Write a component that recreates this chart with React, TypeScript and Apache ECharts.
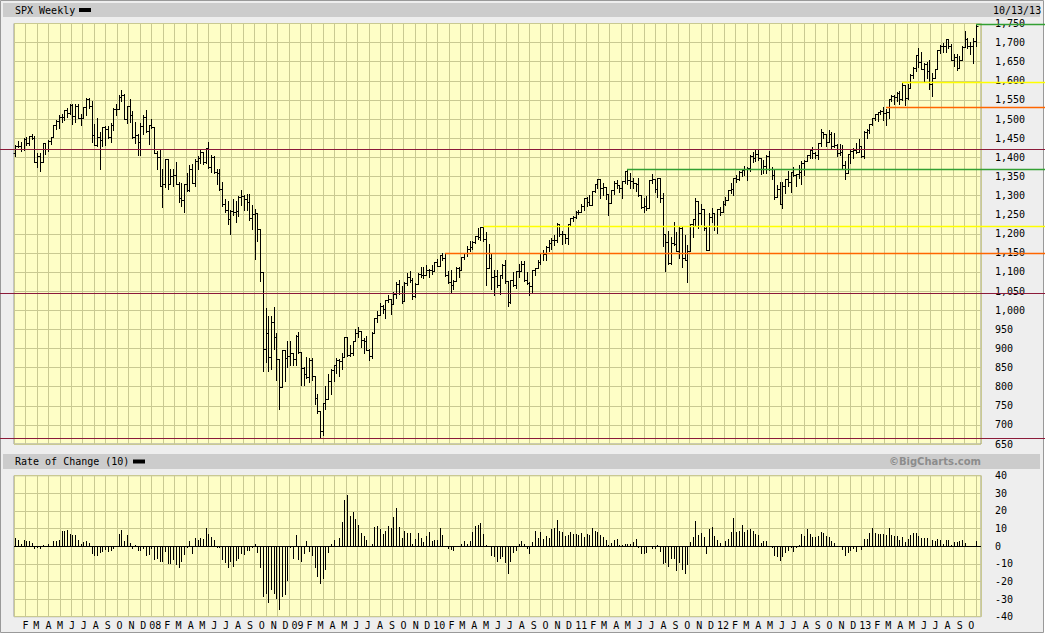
import React, { useEffect, useRef } from "react";
import * as echarts from "echarts";

// Weekly S&P 500 bars, week ending Fri 2007-01-12 (index 0) to 2013-10-18 (index 353)
const opens = [
1410,1430.7,1430.5,1422.2,1448.4,1438.1,1455.5,1451.2,1387.2,1402.8,
1387,1436.1,1420.9,1443.8,1452.9,1484.4,1494.1,1505.6,1505.9,1522.8,
1515.7,1536.3,1507.7,1532.9,1502.6,1503.4,1530.4,1552.5,1534.1,1459,
1433.1,1453.6,1445.9,1479.4,1474,1453.6,1484.3,1525.8,1526.8,1557.6,
1561.8,1500.6,1535.3,1509.7,1453.7,1458.7,1440.7,1481.1,1504.7,1468,
1484.5,1478.5,1411.6,1401,1325.2,1330.6,1395.4,1331.3,1350,1353.1,
1330.6,1293.4,1288.1,1329.5,1315.2,1370.4,1332.8,1390.3,1397.8,1413.9,
1388.3,1425.4,1375.9,1400.4,1360.7,1360,1317.9,1278.4,1262.9,1239.5,
1260.7,1257.8,1260.3,1296.3,1298.2,1292.2,1282.8,1242.3,1251.7,1255.1,
1213.3,1099.2,899.2,940.6,876.8,968.8,931,873.3,800,896.2,
876.1,879.7,887.9,872.8,931.8,890.4,850.1,832,825.9,868.6,
826.8,770.1,735.1,683.4,756.6,768.5,815.9,842.5,856.6,869.6,
866.2,877.5,929.2,882.9,887,919.1,940.1,946.2,921.2,918.9,
896.4,879.1,940.4,979.3,987.5,1010.5,1004.1,1026.1,1028.9,1016.4,
1042.7,1068.3,1044.4,1025.2,1071.5,1087.7,1079.6,1036.2,1069.3,1093.5,
1091.4,1091.5,1106,1106.4,1102.5,1126.5,1115.1,1145,1136,1091.8,
1073.9,1066.2,1075.5,1109.2,1104.5,1138.7,1150,1159.9,1166.6,1178.1,
1194.4,1192.1,1217.3,1186.7,1110.9,1135.7,1087.7,1089.4,1064.9,1091.6,
1117.5,1076.8,1022.6,1078,1064.9,1102.7,1101.6,1121.6,1079.3,1071.7,
1064.6,1104.5,1109.6,1125.6,1148.7,1146.2,1165.2,1176.2,1183.1,1183.3,
1225.9,1199.2,1199.7,1189.4,1224.7,1240.4,1243.9,1256.8,1257.6,1271.5,
1293.2,1283.4,1276.3,1310.9,1329.2,1343,1319.9,1321.2,1304.3,1279.2,
1313.8,1332.4,1328.2,1319.7,1337.4,1363.6,1340.2,1337.8,1333.3,1331.1,
1300.2,1271,1271.5,1268.5,1339.7,1343.8,1316.1,1345,1292.3,1199.4,
1178.8,1123.5,1176.8,1174,1154.2,1216,1136.4,1131.4,1155.5,1224.6,
1238.3,1285.1,1253.2,1263.9,1215.7,1158.7,1244.3,1255.2,1219.7,1265.3,
1257.6,1277.8,1289.1,1315.4,1316.3,1344.9,1342.6,1361.2,1365.7,1370,
1370.9,1404.2,1397.1,1408.5,1398.1,1370.3,1378.5,1403.4,1369.1,1353.4,
1295.2,1317.8,1278,1325.7,1342.8,1335,1362.2,1354.7,1356.8,1362.7,
1386,1391,1405.9,1418.2,1411.1,1406.6,1437.9,1465.8,1460.2,1440.7,
1460.9,1428.6,1433.2,1411.9,1414.2,1379.9,1359.9,1409.2,1416.2,1418.1,
1413.6,1430.2,1402.4,1466.5,1472.1,1486,1503,1513.2,1517.9,1519.8,
1515.6,1518.2,1551.2,1560.7,1556.9,1569.2,1553.3,1588.9,1555.3,1582.2,
1614.4,1633.7,1667.5,1649.6,1630.7,1643.4,1626.7,1592.4,1606.3,1631.9,
1680.2,1692.1,1691.7,1709.7,1691.4,1655.8,1663.5,1633,1655.2,1688,
1709.9,1691.8,1690.5,1703.2];

const highs = [
1431.6,1441.6,1440.7,1449.3,1453,1456,1461.6,1457,1410.2,1410.5,
1437.7,1437.8,1444,1453.1,1484.7,1498,1510.3,1513.8,1522.8,1529.4,
1540.6,1540.5,1538.7,1540.5,1514.3,1531.9,1555.1,1555.9,1547.2,1488.3,
1503.9,1466.3,1479.5,1481.5,1481.5,1489.6,1529.4,1538.7,1561.9,1576.1,
1564.7,1535.3,1552.8,1520.5,1492.1,1462.2,1488.9,1510.6,1523.6,1485.4,
1498.9,1478.9,1416.5,1417.9,1368.6,1396,1395.4,1368.6,1368.4,1388.3,
1335.1,1333.3,1331.3,1359.7,1380.9,1383.5,1395.9,1404.6,1422.7,1415.1,
1425.4,1440.2,1406.3,1404.1,1370.6,1370.6,1335.6,1290.7,1285.3,1262.3,
1291.2,1284.4,1297.9,1313.2,1300.7,1303,1303,1274.4,1265.1,1255.1,
1213.3,1099.2,1006.9,985.4,984.4,1007.5,939.7,873.4,896.3,896.2,
918.9,918.6,888,934.7,943.9,890.4,852.5,877.9,873.9,875,
826.8,780,735.1,758.3,803,833,845.6,856.9,875.6,871.8,
888.7,930.2,930.2,910,920,951.7,956.2,946.2,926.9,931.9,
898.7,944,979.8,996.7,1018,1012.9,1027.6,1039.5,1028.9,1048.2,
1074.8,1080.2,1063.4,1075,1096.6,1101.4,1085.3,1071.5,1097,1113.7,
1112.4,1119.1,1107.8,1117.7,1126.5,1133.5,1145.4,1150.4,1150.45,1103.7,
1104.7,1080,1112.4,1112.4,1139,1150,1169.2,1180.7,1181.4,1194.7,
1213.9,1217.3,1219.8,1205,1173.6,1150.3,1104,1105.7,1093,1120,
1131.2,1076.8,1078.2,1099.1,1103.7,1121,1128,1129.2,1100.1,1075,
1105.1,1110.9,1131.5,1148.9,1157.2,1167.7,1184.4,1189.4,1196.1,1227.1,
1225.9,1207.4,1199.7,1225.6,1240.4,1246.7,1259.4,1262.6,1278.2,1293.2,
1296.1,1301.3,1311,1330.8,1344.1,1343,1332.3,1322.3,1304.3,1314.2,
1337.9,1339.5,1328.2,1337.5,1364.6,1370.6,1359.4,1346.8,1334,1345.2,
1300.6,1292.5,1298.6,1341,1356.5,1343.8,1347,1345,1307.4,1199.4,
1208.5,1190.7,1230.7,1204.4,1220.1,1220.4,1195.9,1171.4,1224.6,1239,
1292.7,1285.1,1277.6,1264.3,1219,1254.2,1267.1,1255.2,1265.4,1269.4,
1284.6,1296.8,1315.5,1333.5,1345.3,1354.3,1363.4,1368.9,1378,1374,
1405.9,1414,1419.2,1422.4,1398.1,1392.8,1406.6,1415.3,1375.8,1365.9,
1328.5,1334.9,1334.5,1343.3,1363.5,1362.2,1374.8,1356.8,1380.4,1389.2,
1394.2,1406,1418.7,1426.7,1413.5,1437.9,1474.5,1467.1,1460.2,1471,
1465.7,1464,1434.8,1434.3,1433.4,1391.4,1409.2,1420.3,1423.7,1438.6,
1448,1430.2,1467.9,1472.8,1486,1503.3,1514.4,1518.3,1524.7,1530.9,
1525.8,1552.5,1563.6,1563.6,1570.3,1573.7,1597.4,1588.9,1592.6,1618.5,
1635,1667.5,1687.2,1674.2,1646.5,1648.7,1654.2,1620.1,1632.1,1680.2,
1693.1,1698.4,1709.7,1709.7,1696.8,1669.5,1669.7,1664.8,1690,1729.9,
1711.7,1700.7,1711,1745.3];

const lows = [
1403.9,1426,1416.9,1418.5,1433,1431.2,1448.4,1386.6,1373.4,1364,
1386.9,1408.9,1416.4,1433.9,1452.8,1473.7,1476.7,1491.4,1498.3,1505.2,
1514.4,1487.4,1492.7,1502.6,1484.2,1503.4,1510,1529.2,1441,1433.1,
1429.4,1370.6,1430.5,1432,1449.6,1439.3,1471.8,1510.9,1526.8,1546.7,
1500.3,1489.6,1492.5,1450,1438.5,1406.1,1406.1,1460.7,1467.4,1435.7,
1475.8,1411.2,1370.1,1324.4,1270,1322.4,1316.8,1331.3,1325.4,1330.6,
1282.9,1272.6,1257,1313,1312.6,1332.8,1324.4,1370.1,1386,1382.6,
1386,1373.1,1362.5,1359.9,1330.9,1314.6,1272,1257.3,1225.4,1200.4,
1248.6,1230.3,1247.4,1274.2,1261.3,1262.1,1236.1,1211.4,1133.5,1180.1,
1077.6,839.8,865.8,840.9,845.3,899.7,818.7,741,798.9,815.7,
851.4,857.9,857.1,857.3,888.3,804.3,804.1,821.7,812.9,818,
754.3,731.3,666.8,672.9,741,768.5,779.8,814.5,836.9,826.8,
847.1,876.6,878.9,878.9,881.8,919,930.8,903.8,888.9,896.4,
869.3,875.3,940.4,970,986.8,991.4,978.5,1022.5,991,1016.4,
1030.9,1041.2,1020,1025.2,1066.8,1073.6,1029.4,1033.4,1069.3,1085.6,
1083.7,1091.5,1085.9,1095.4,1102.5,1115.1,1115.1,1131.4,1090.2,1071.6,
1044.5,1056.5,1075.5,1086,1104.5,1134.5,1141.4,1156,1159.1,1175,
1186.1,1183.7,1181.6,1065.8,1110.9,1055.9,1040.8,1060.5,1042.2,1085.5,
1070,1010.9,1018.3,1062.9,1056.9,1088,1101.6,1076.6,1069.6,1039.7,
1047.7,1091,1109.4,1120.8,1131.9,1131.9,1155.7,1159.7,1171.7,1177.7,
1194.1,1173,1176,1174.4,1222.4,1232.9,1241.8,1251.5,1257.6,1262.2,
1271.3,1275.6,1276.3,1309,1320,1294.3,1302.6,1292,1249.1,1279.2,
1305,1320.9,1309,1294.7,1333.6,1329.2,1318.5,1318.5,1311.8,1297.9,
1268.3,1258.1,1262.7,1268.5,1333.9,1309.4,1295.9,1282.9,1168.1,1101.5,
1120.1,1121.1,1170.6,1153.8,1136.1,1114.2,1131.1,1074.8,1155.5,1191.5,
1220.9,1215.4,1226.6,1209.4,1158.7,1158.7,1231.5,1209.5,1202.4,1248.6,
1257.6,1274.7,1289.1,1306.1,1300.5,1335.9,1340,1352.3,1354.9,1340,
1365.4,1386.9,1391.6,1392.9,1357.4,1358,1358.6,1367.9,1343.1,1292,
1295.2,1277.8,1266.7,1306.6,1324.4,1309.3,1350.4,1325.4,1345.1,1329.2,
1354.6,1391,1397.3,1397.1,1397,1396.6,1429.1,1449.5,1430.5,1440.7,
1425.5,1426.7,1403.3,1406,1373,1343.4,1359.9,1385.4,1398.2,1411.9,
1413.6,1401.6,1398.1,1451.6,1463.8,1485,1496.3,1495,1513.6,1497.3,
1485,1501.5,1547.4,1538.6,1546.2,1539.5,1548.6,1536,1552.6,1581.3,
1607.4,1625.3,1635.5,1630.7,1598.2,1608.1,1577.7,1560.3,1606.3,1631.9,
1672.3,1676,1674.9,1684.9,1654.2,1639.4,1627.5,1633,1655.2,1688,
1687.1,1670.4,1646.5,1692.1];

const closes = [
1430.7,1430.5,1422.2,1448.4,1438.1,1455.5,1451.2,1387.2,1402.8,1387,
1436.1,1420.9,1443.8,1452.9,1484.4,1494.1,1505.6,1505.9,1522.8,1515.7,
1536.3,1507.7,1532.9,1502.6,1503.4,1530.4,1552.5,1534.1,1459,1433.1,
1453.6,1445.9,1479.4,1474,1453.6,1484.3,1525.8,1526.8,1557.6,1561.8,
1500.6,1535.3,1509.7,1453.7,1458.7,1440.7,1481.1,1504.7,1468,1484.5,
1478.5,1411.6,1401,1325.2,1330.6,1395.4,1331.3,1350,1353.1,1330.6,
1293.4,1288.1,1329.5,1315.2,1370.4,1332.8,1390.3,1397.8,1413.9,1388.3,
1425.4,1375.9,1400.4,1360.7,1360,1317.9,1278.4,1262.9,1239.5,1260.7,
1257.8,1260.3,1296.3,1298.2,1292.2,1282.8,1242.3,1251.7,1255.1,1213.3,
1099.2,899.2,940.6,876.8,968.8,931,873.3,800,896.2,876.1,
879.7,887.9,872.8,931.8,890.4,850.1,832,825.9,868.6,826.8,
770.1,735.1,683.4,756.6,768.5,815.9,842.5,856.6,869.6,866.2,
877.5,929.2,882.9,887,919.1,940.1,946.2,921.2,918.9,896.4,
879.1,940.4,979.3,987.5,1010.5,1004.1,1026.1,1028.9,1016.4,1042.7,
1068.3,1044.4,1025.2,1071.5,1087.7,1079.6,1036.2,1069.3,1093.5,1091.4,
1091.5,1106,1106.4,1102.5,1126.5,1115.1,1145,1136,1091.8,1073.9,
1066.2,1075.5,1109.2,1104.5,1138.7,1150,1159.9,1166.6,1178.1,1194.4,
1192.1,1217.3,1186.7,1110.9,1135.7,1087.7,1089.4,1064.9,1091.6,1117.5,
1076.8,1022.6,1078,1064.9,1102.7,1101.6,1121.6,1079.3,1071.7,1064.6,
1104.5,1109.6,1125.6,1148.7,1146.2,1165.2,1176.2,1183.1,1183.3,1225.9,
1199.2,1199.7,1189.4,1224.7,1240.4,1243.9,1256.8,1257.6,1271.5,1293.2,
1283.4,1276.3,1310.9,1329.2,1343,1319.9,1321.2,1304.3,1279.2,1313.8,
1332.4,1328.2,1319.7,1337.4,1363.6,1340.2,1337.8,1333.3,1331.1,1300.2,
1271,1271.5,1268.5,1339.7,1343.8,1316.1,1345,1292.3,1199.4,1178.8,
1123.5,1176.8,1174,1154.2,1216,1136.4,1131.4,1155.5,1224.6,1238.3,
1285.1,1253.2,1263.9,1215.7,1158.7,1244.3,1255.2,1219.7,1265.3,1257.6,
1277.8,1289.1,1315.4,1316.3,1344.9,1342.6,1361.2,1365.7,1370,1370.9,
1404.2,1397.1,1408.5,1398.1,1370.3,1378.5,1403.4,1369.1,1353.4,1295.2,
1317.8,1278,1325.7,1342.8,1335,1362.2,1354.7,1356.8,1362.7,1386,
1391,1405.9,1418.2,1411.1,1406.6,1437.9,1465.8,1460.2,1440.7,1460.9,
1428.6,1433.2,1411.9,1414.2,1379.9,1359.9,1409.2,1416.2,1418.1,1413.6,
1430.2,1402.4,1466.5,1472.1,1486,1503,1513.2,1517.9,1519.8,1515.6,
1518.2,1551.2,1560.7,1556.9,1569.2,1553.3,1588.9,1555.3,1582.2,1614.4,
1633.7,1667.5,1649.6,1630.7,1643.4,1626.7,1592.4,1606.3,1631.9,1680.2,
1692.1,1691.7,1709.7,1691.4,1655.8,1663.5,1633,1655.2,1688,1709.9,
1691.8,1690.5,1703.2,1744.5];

// Rate of Change (10), percent, read per week
const roc10 = [
4.9,3.6,1.5,3.4,3.0,3.2,1.7,-1.7,-1.1,-1.6,
0.4,-0.7,1.5,0.3,3.2,2.7,3.7,8.6,8.6,9.3,
7.0,6.1,6.2,3.4,1.3,2.4,3.1,1.9,-4.2,-5.4,
-5.4,-4.1,-3.5,-1.9,-3.3,-3.0,-1.7,-0.5,6.8,9.0,
3.2,6.2,2.0,-1.4,0.4,-2.9,-2.9,-1.4,-5.8,-4.9,
-1.5,-8.1,-7.2,-8.8,-8.8,-3.1,-10.1,-10.3,-7.8,-10.4,
-12.5,-8.7,-5.1,-0.8,3.0,-4.5,4.4,3.5,4.5,4.3,
10.2,6.8,5.3,3.5,-0.8,-1.1,-8.0,-9.7,-12.3,-9.2,
-11.8,-8.4,-7.4,-4.6,-5.0,-2.7,-2.8,-0.9,1.3,-3.8,
-12.6,-28.7,-27.4,-32.5,-25.0,-27.4,-29.7,-36.1,-28.6,-27.8,
-20.0,-1.3,-7.2,6.3,-8.1,-8.7,-4.7,3.2,-3.1,-5.6,
-12.5,-17.2,-21.7,-18.8,-13.7,-4.0,1.3,3.7,0.1,4.8,
14.0,26.4,29.2,17.2,19.6,15.2,12.3,7.5,5.7,3.5,
0.2,1.2,10.9,11.3,9.9,6.8,8.4,11.7,10.6,16.3,
21.5,11.1,4.7,8.5,7.6,7.5,1.0,3.9,7.6,4.7,
2.2,5.9,7.9,2.9,3.6,3.3,10.5,6.2,-0.2,-1.6,
-2.3,-2.8,0.3,0.2,1.1,3.1,1.3,2.7,7.9,11.2,
11.8,13.2,7.0,0.6,-0.3,-5.4,-6.1,-8.7,-7.3,-6.4,
-9.7,-16.0,-9.2,-4.1,-2.9,1.3,3.0,1.3,-1.8,-4.7,
2.6,8.5,4.4,7.9,3.9,5.8,4.9,9.6,10.4,15.1,
8.6,8.1,5.7,6.6,8.2,6.8,6.9,6.3,7.5,5.5,
7.0,6.4,10.2,8.5,8.3,6.1,5.1,3.7,0.6,1.6,
3.8,4.1,0.7,0.6,1.5,1.5,1.3,2.2,4.1,-1.0,
-4.6,-4.3,-3.9,0.2,-1.5,-1.8,0.5,-3.1,-9.9,-9.3,
-11.6,-7.4,-7.4,-13.8,-9.5,-13.7,-15.9,-10.6,2.1,5.0,
14.4,6.5,7.7,5.3,-4.7,9.5,10.9,5.6,3.3,1.6,
-0.6,2.9,4.1,8.3,16.1,7.9,8.4,12.0,8.3,9.0,
9.9,8.4,7.1,6.2,1.9,2.7,3.1,0.2,-1.2,-5.5,
-6.2,-8.5,-5.9,-4.0,-2.6,-1.2,-3.5,-0.9,0.7,7.0,
5.6,10.0,7.0,5.1,5.4,5.6,8.2,7.6,5.7,5.4,
2.7,1.9,-0.4,0.2,-1.9,-5.4,-3.9,-3.0,-1.6,-3.2,
0.1,-2.1,3.9,4.1,7.7,10.5,7.4,7.2,7.2,7.2,
6.2,10.6,6.4,5.8,5.6,3.3,5.0,2.5,4.1,6.5,
7.6,7.5,5.7,4.7,4.7,4.7,0.2,3.3,3.1,4.1,
3.6,1.4,3.6,3.7,0.8,2.3,2.5,3.0,3.4,1.8,
0.0,-0.1,-0.4,3.1];

// Month tick labels, Feb 2007 .. Oct 2013 (January shows the year)
const monthLabels = [
"F","M","A","M","J","J","A","S","O","N","D",
"08","F","M","A","M","J","J","A","S","O","N","D",
"09","F","M","A","M","J","J","A","S","O","N","D",
"10","F","M","A","M","J","J","A","S","O","N","D",
"11","F","M","A","M","J","J","A","S","O","N","D",
"12","F","M","A","M","J","J","A","S","O","N","D",
"13","F","M","A","M","J","J","A","S","O"];

// Horizontal reference levels
const fullLevels = [1421, 1044, 667];
const rayLevels = [1150.45, 1219.8, 1370.6, 1530.9, 1597.4, 1748];
const rayStarts = [158, 172, 225, 320, 326, 353];

const rayColors = ["#ff6600", "#ffff00", "#33a033", "#ff6600", "#ffff00", "#33a033"];
const MONO = "'DejaVu Sans Mono', 'Liberation Mono', monospace";

export default function App() {
  const ref = useRef<HTMLDivElement>(null);
  useEffect(() => {
    if (!ref.current) return;
    const chart = echarts.init(ref.current, undefined, { renderer: "svg" });

    const week0 = Date.UTC(2007, 0, 8);
    const tickPos = monthLabels.map((_, k) => (Date.UTC(2007, 1 + k, 1) - week0) / (7 * 86400000) + 0.3);
    const tickFmt = (v: number) => {
      const k = tickPos.findIndex((p) => Math.abs(p - v) < 1e-6);
      return k >= 0 ? monthLabels[k] : "";
    };

    const ohlc = closes.map((c, i) => [i, opens[i], highs[i], lows[i], c]);
    const rocData = roc10.map((v, i) => [i, v]);

    const gridBg = "#fefec6";
    const splitColor = "#c9c992";
    const VCOLS = 84.45;

    const hiddenX = (gridIndex: number) => ({
      type: "value", gridIndex, min: 0, max: VCOLS, interval: 1,
      axisLine: { show: false }, axisTick: { show: false }, axisLabel: { show: false },
      splitLine: { show: true, lineStyle: { color: splitColor, width: 1 } },
    });

    const option: any = {
      animation: false,
      grid: [
        { left: 14, top: 23.5, width: 967, height: 420.5, show: true, backgroundColor: gridBg, borderColor: "#999999", borderWidth: 1 },
        { left: 14, top: 475.7, width: 967, height: 141, show: true, backgroundColor: gridBg, borderColor: "#999999", borderWidth: 1 },
      ],
      xAxis: [
        { type: "value", gridIndex: 0, min: -0.5, max: 355,
          axisLine: { show: false }, axisTick: { show: false }, axisLabel: { show: false }, splitLine: { show: false } },
        { type: "value", gridIndex: 1, min: -0.5, max: 355,
          axisLine: { show: false }, axisTick: { show: false }, splitLine: { show: false },
          axisLabel: { customValues: tickPos, formatter: tickFmt, margin: 4, fontFamily: MONO, fontSize: 10, color: "#000" } },
        hiddenX(0),
        hiddenX(1),
      ],
      yAxis: [
        { type: "value", gridIndex: 0, position: "right", min: 650, max: 1750, interval: 50,
          axisLine: { show: false }, axisTick: { show: false },
          axisLabel: { margin: 14, align: "left", fontFamily: MONO, fontSize: 10, color: "#000",
            formatter: (v: number) => v.toLocaleString("en-US") },
          splitLine: { show: true, lineStyle: { color: splitColor, width: 1 } } },
        { type: "value", gridIndex: 1, position: "right", min: -40, max: 40, interval: 10,
          axisLine: { show: false }, axisTick: { show: false },
          axisLabel: { margin: 14, align: "left", fontFamily: MONO, fontSize: 10, color: "#000" },
          splitLine: { show: true, lineStyle: { color: splitColor, width: 1 } } },
      ],
      series: [
        {
          type: "custom", name: "SPX", xAxisIndex: 0, yAxisIndex: 0, z: 5,
          data: ohlc, encode: { x: 0, y: [1, 2, 3, 4] },
          renderItem: (_p: any, api: any) => {
            const i = api.value(0);
            const pO = api.coord([i, api.value(1)]);
            const pH = api.coord([i, api.value(2)]);
            const pL = api.coord([i, api.value(3)]);
            const pC = api.coord([i, api.value(4)]);
            const x = Math.round(pH[0]) + 0.5;
            const yo = Math.round(pO[1]) + 0.5;
            const yc = Math.round(pC[1]) + 0.5;
            return {
              type: "group",
              children: [
                { type: "line", shape: { x1: x, y1: Math.round(pH[1]), x2: x, y2: Math.round(pL[1]) + 1 }, style: { stroke: "#000", lineWidth: 1 } },
                { type: "line", shape: { x1: x - 2, y1: yo, x2: x, y2: yo }, style: { stroke: "#000", lineWidth: 1 } },
                { type: "line", shape: { x1: x, y1: yc, x2: x + 2, y2: yc }, style: { stroke: "#000", lineWidth: 1 } },
              ],
            };
          },
        },
        {
          type: "custom", name: "ROC", xAxisIndex: 1, yAxisIndex: 1, z: 5,
          data: rocData, encode: { x: 0, y: 1 },
          renderItem: (_p: any, api: any) => {
            const i = api.value(0);
            const p0 = api.coord([i, 0]);
            const p1 = api.coord([i, api.value(1)]);
            const x = Math.round(p0[0]) + 0.5;
            return { type: "line", shape: { x1: x, y1: Math.round(p0[1]), x2: x, y2: Math.round(p1[1]) }, style: { stroke: "#000", lineWidth: 1 } };
          },
          markLine: { silent: true, symbol: "none", label: { show: false },
            lineStyle: { color: "#000", width: 1, type: "solid" }, data: [{ yAxis: 0 }] },
        },
      ],
    };
    chart.setOption(option);

    const yPix = (v: number) => Math.round(chart.convertToPixel({ yAxisIndex: 0 }, v) as number) + 0.5;
    const xPix = (i: number) => Math.round(chart.convertToPixel({ xAxisIndex: 0 }, i) as number);

    const graphics: any[] = [
      { type: "rect", z: -5, silent: true, shape: { x: 0.5, y: 0.5, width: 1043, height: 632 }, style: { fill: "#eeeeee", stroke: "#999999", lineWidth: 1 } },
      { type: "rect", z: -4, silent: true, shape: { x: 3, y: 3, width: 1037, height: 14 }, style: { fill: "#cccccc" } },
      { type: "rect", z: -4, silent: true, shape: { x: 3, y: 454, width: 1037, height: 15 }, style: { fill: "#cccccc" } },
      { type: "text", z: 20, silent: true, x: 15, y: 10, style: { text: "SPX Weekly", font: `10px ${MONO}`, fill: "#000", verticalAlign: "middle" } },
      { type: "rect", z: 20, silent: true, shape: { x: 79, y: 8, width: 12, height: 4 }, style: { fill: "#000" } },
      { type: "text", z: 20, silent: true, x: 993, y: 10, style: { text: "10/13/13", font: `10px ${MONO}`, fill: "#000", verticalAlign: "middle" } },
      { type: "text", z: 20, silent: true, x: 15, y: 461.5, style: { text: "Rate of Change (10)", font: `10px ${MONO}`, fill: "#000", verticalAlign: "middle" } },
      { type: "rect", z: 20, silent: true, shape: { x: 133, y: 459.5, width: 12, height: 4 }, style: { fill: "#000" } },
      { type: "text", z: 20, silent: true, x: 981, y: 461.5, style: { text: "\u00A9BigCharts.com", font: `bold 10px 'DejaVu Sans', Verdana, sans-serif`, fill: "#8c8c8c", align: "right", verticalAlign: "middle" } },
    ];
    fullLevels.forEach((v) => {
      const y = yPix(v);
      graphics.push({ type: "line", z: 30, silent: true, shape: { x1: 0, y1: y, x2: 1045, y2: y }, style: { stroke: "#8b1a3a", lineWidth: 1 } });
    });
    rayLevels.forEach((v, k) => {
      const y = yPix(v);
      graphics.push({ type: "line", z: 31, silent: true, shape: { x1: xPix(rayStarts[k]), y1: y, x2: 1045, y2: y }, style: { stroke: rayColors[k], lineWidth: 1.5 } });
    });
    chart.setOption({ graphic: graphics });

    return () => chart.dispose();
  }, []);

  return <div ref={ref} style={{ position: "absolute", left: 0, top: 0, width: 1045, height: 635 }} />;
}
